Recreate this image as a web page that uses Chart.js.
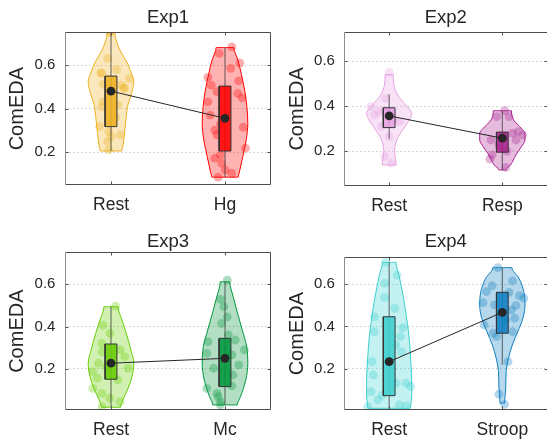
<!DOCTYPE html>
<html>
<head>
<meta charset="utf-8">
<script src="https://cdn.jsdelivr.net/npm/chart.js@4.4.0/dist/chart.umd.min.js"></script>
<style>
  html, body { margin: 0; padding: 0; background: #fff; }
  #wrap { position: relative; width: 547px; height: 441px; overflow: hidden; }
  canvas { position: absolute; }
</style>
</head>
<body>
<div id="wrap">
  <canvas id="exp1" width="275" height="220" style="left:0;top:0"></canvas>
  <canvas id="exp2" width="280" height="220" style="left:272px;top:0"></canvas>
  <canvas id="exp3" width="275" height="221" style="left:0;top:220px"></canvas>
  <canvas id="exp4" width="280" height="221" style="left:272px;top:220px"></canvas>
</div>
<script>
const titles = ["Exp1", "Exp2", "Exp3", "Exp4"];
const categories = [["Rest", "Hg"], ["Rest", "Resp"], ["Rest", "Mc"], ["Rest", "Stroop"]];
const yLabel = "ComEDA";
const yTicks = [0.2, 0.4, 0.6];
const yRanges = [[0.05, 0.751], [0.048, 0.728], [0.004, 0.752], [0.004, 0.728]];
const colors = [["#EDB120", "#FF0000"], ["#E6A0E1", "#A8228E"], ["#66CC00", "#00963C"], ["#3CCFCF", "#0E7EC0"]];

// box stats: [whisker low, q1, median, q3, whisker high]
// violin: levels + relative density (1 = widest), points: values + x jitter
const exp1RestBox = [0.206, 0.318, 0.481, 0.55, 0.745];
const exp1RestLevels = [0.206, 0.234, 0.295, 0.356, 0.417, 0.478, 0.524, 0.569, 0.615, 0.661, 0.707, 0.745];
const exp1RestDensity = [0.47, 0.53, 0.6, 0.66, 0.74, 0.92, 1.0, 0.87, 0.69, 0.43, 0.25, 0.18];
const exp1RestValues = [0.75, 0.631, 0.58, 0.562, 0.512, 0.508, 0.539, 0.496, 0.409, 0.417, 0.318, 0.28, 0.295, 0.249, 0.211, 0.565, 0.493, 0.432, 0.272, 0.36];
const exp1RestJitter = [-0.01, -0.03, 0.05, -0.08, -0.07, 0.09, 0.16, 0.12, -0.08, 0.06, -0.1, 0.08, -0.02, -0.03, -0.02, -0.09, 0.11, -0.07, 0.0, 0.04];

const exp1HgBox = [0.086, 0.206, 0.356, 0.504, 0.681];
const exp1HgLevels = [0.086, 0.104, 0.18, 0.257, 0.333, 0.409, 0.486, 0.562, 0.623, 0.681];
const exp1HgDensity = [0.58, 0.62, 0.78, 0.93, 1.0, 0.96, 0.86, 0.71, 0.57, 0.39];
const exp1HgValues = [0.654, 0.684, 0.585, 0.544, 0.508, 0.528, 0.47, 0.478, 0.432, 0.371, 0.302, 0.28, 0.315, 0.219, 0.173, 0.188, 0.15, 0.119, 0.104, 0.086, 0.33, 0.45, 0.61];
const exp1HgJitter = [-0.05, 0.06, 0.05, -0.15, -0.12, 0.12, 0.11, -0.07, -0.15, -0.13, -0.09, -0.07, 0.16, 0.18, -0.09, -0.04, -0.03, 0.0, 0.06, -0.06, -0.04, 0.15, 0.13];

const exp2RestBox = [0.255, 0.305, 0.357, 0.393, 0.453];
const exp2RestLevels = [0.139, 0.198, 0.243, 0.287, 0.331, 0.368, 0.405, 0.449, 0.494, 0.541];
const exp2RestDensity = [0.31, 0.24, 0.31, 0.54, 0.84, 1.0, 0.74, 0.38, 0.21, 0.18];
const exp2RestValues = [0.55, 0.435, 0.398, 0.361, 0.376, 0.331, 0.265, 0.177, 0.147, 0.38, 0.34, 0.31];
const exp2RestJitter = [0, -0.03, -0.16, -0.13, -0.09, 0.09, 0, -0.04, 0.02, -0.04, 0.04, -0.07];

const exp2RespBox = [0.117, 0.196, 0.258, 0.285, 0.38];
const exp2RespLevels = [0.117, 0.139, 0.184, 0.22, 0.25, 0.28, 0.302, 0.339, 0.38];
const exp2RespDensity = [0.16, 0.36, 0.6, 0.84, 1.0, 1.0, 0.84, 0.5, 0.4];
const exp2RespValues = [0.354, 0.354, 0.287, 0.28, 0.25, 0.272, 0.25, 0.184, 0.165, 0.128, 0.38, 0.23, 0.2];
const exp2RespJitter = [-0.05, 0.06, 0.14, 0.09, 0.12, 0.18, -0.1, -0.09, -0.11, 0.03, 0.02, -0.03, 0.04];

const exp3RestBox = [0.017, 0.15, 0.226, 0.317, 0.494];
const exp3RestLevels = [0.017, 0.052, 0.099, 0.162, 0.226, 0.289, 0.368, 0.431, 0.494];
const exp3RestDensity = [0.42, 0.52, 0.72, 0.92, 1.0, 0.87, 0.67, 0.48, 0.31];
const exp3RestValues = [0.497, 0.407, 0.368, 0.32, 0.28, 0.289, 0.257, 0.226, 0.21, 0.186, 0.155, 0.147, 0.107, 0.083, 0.06, 0.044, 0.02, 0.202];
const exp3RestJitter = [0.04, -0.07, -0.01, -0.08, -0.08, 0.08, 0.12, -0.11, -0.04, -0.16, -0.12, 0.06, -0.16, -0.08, -0.01, 0.08, -0.08, 0.15];

const exp3McBox = [0.028, 0.115, 0.249, 0.344, 0.612];
const exp3McLevels = [0.028, 0.067, 0.146, 0.226, 0.304, 0.383, 0.463, 0.541, 0.612];
const exp3McDensity = [0.54, 0.68, 0.91, 1.0, 0.95, 0.76, 0.55, 0.36, 0.21];
const exp3McValues = [0.62, 0.529, 0.494, 0.446, 0.415, 0.36, 0.336, 0.328, 0.289, 0.273, 0.265, 0.202, 0.218, 0.17, 0.118, 0.107, 0.083, 0.067, 0.044, 0.028];
const exp3McJitter = [0.02, -0.04, -0.01, 0.02, -0.03, 0.03, 0.09, -0.15, 0.17, -0.16, 0.06, -0.1, 0.12, 0.07, 0.06, -0.16, -0.07, -0.06, -0.04, -0.04];

const exp4RestBox = [0.012, 0.072, 0.233, 0.446, 0.704];
const exp4RestLevels = [0.012, 0.075, 0.17, 0.265, 0.36, 0.455, 0.549, 0.644, 0.704];
const exp4RestDensity = [0.94, 1.0, 0.99, 0.94, 0.87, 0.75, 0.61, 0.43, 0.3];
const exp4RestValues = [0.704, 0.644, 0.605, 0.537, 0.446, 0.486, 0.375, 0.394, 0.352, 0.312, 0.28, 0.233, 0.17, 0.131, 0.131, 0.115, 0.091, 0.052, 0.075, 0.02, 0.028, 0.025];
const exp4RestJitter = [-0.03, 0.07, -0.04, -0.04, -0.13, 0.05, -0.13, 0.12, 0.1, 0.06, 0.11, -0.15, -0.14, 0.06, 0.15, 0.19, -0.16, -0.1, -0.06, -0.19, 0.09, 0.15];

const exp4StroopBox = [0.218, 0.368, 0.467, 0.562, 0.679];
const exp4StroopLevels = [0.036, 0.107, 0.186, 0.249, 0.312, 0.375, 0.439, 0.502, 0.565, 0.628, 0.679];
const exp4StroopDensity = [0.1, 0.15, 0.17, 0.27, 0.44, 0.68, 0.91, 1.0, 0.95, 0.74, 0.42];
const exp4StroopValues = [0.679, 0.593, 0.565, 0.513, 0.616, 0.562, 0.546, 0.534, 0.499, 0.439, 0.375, 0.502, 0.368, 0.352, 0.407, 0.233, 0.079, 0.031, 0.431, 0.478];
const exp4StroopJitter = [-0.04, -0.09, -0.14, -0.17, 0.09, 0.06, 0.15, 0.19, 0.12, 0.11, 0.09, -0.07, -0.08, -0.05, -0.16, 0.05, -0.03, 0.02, 0.03, 0.08];

const groups = [
  [
    { box: exp1RestBox, levels: exp1RestLevels, density: exp1RestDensity, values: exp1RestValues, jitter: exp1RestJitter },
    { box: exp1HgBox, levels: exp1HgLevels, density: exp1HgDensity, values: exp1HgValues, jitter: exp1HgJitter },
  ],
  [
    { box: exp2RestBox, levels: exp2RestLevels, density: exp2RestDensity, values: exp2RestValues, jitter: exp2RestJitter },
    { box: exp2RespBox, levels: exp2RespLevels, density: exp2RespDensity, values: exp2RespValues, jitter: exp2RespJitter },
  ],
  [
    { box: exp3RestBox, levels: exp3RestLevels, density: exp3RestDensity, values: exp3RestValues, jitter: exp3RestJitter },
    { box: exp3McBox, levels: exp3McLevels, density: exp3McDensity, values: exp3McValues, jitter: exp3McJitter },
  ],
  [
    { box: exp4RestBox, levels: exp4RestLevels, density: exp4RestDensity, values: exp4RestValues, jitter: exp4RestJitter },
    { box: exp4StroopBox, levels: exp4StroopLevels, density: exp4StroopDensity, values: exp4StroopValues, jitter: exp4StroopJitter },
  ],
];

// layout of each subplot inside its canvas
const panels = [
  { id: "exp1", yWidth: 65.4, xHeight: 35, top: 32.3, padRight: 4.4, titleTop: 6.7, yTitlePad: 5.5, yTickPad: 10 },
  { id: "exp2", yWidth: 71.9, xHeight: 34.5, top: 32.3, padRight: 1.8, titleTop: 6.7, yTitlePad: 13, yTickPad: 9 },
  { id: "exp3", yWidth: 65.4, xHeight: 31, top: 32.3, padRight: 4.4, titleTop: 10.7, yTitlePad: 5, yTickPad: 10 },
  { id: "exp4", yWidth: 71.9, xHeight: 31, top: 37.3, padRight: 1.8, titleTop: 11.2, yTitlePad: 13, yTickPad: 9 },
];

const VIOLIN_HALF = 0.2;
const BOX_HALF = 0.052;
const INK = "#262626";

Chart.defaults.font.family = '"Liberation Sans", Arial, Helvetica, sans-serif';
Chart.defaults.color = INK;

function rgba(hex, a) {
  const n = parseInt(hex.slice(1), 16);
  return `rgba(${(n >> 16) & 255}, ${(n >> 8) & 255}, ${n & 255}, ${a})`;
}

function halfViolin(center, side, g) {
  const last = g.levels.length - 1;
  const edge = g.levels.map((v, i) => ({ x: center + side * g.density[i] * VIOLIN_HALF, y: v }));
  return [{ x: center, y: g.levels[0] }, ...edge, { x: center, y: g.levels[last] }];
}

function groupDatasets(g, center, color) {
  const sets = [];
  [1, -1].forEach((side) => {
    sets.push({
      type: "line",
      data: halfViolin(center, side, g),
      indexAxis: "y",
      cubicInterpolationMode: "monotone",
      fill: "shape",
      backgroundColor: rgba(color, 0.3),
      borderColor: color,
      borderWidth: 1,
      pointRadius: 0,
      order: 5,
    });
  });
  sets.push({
    type: "scatter",
    data: g.values.map((v, i) => ({ x: center + g.jitter[i], y: v })),
    pointRadius: 4.4,
    pointBackgroundColor: rgba(color, 0.32),
    pointBorderWidth: 0,
    order: 4,
  });
  sets.push({
    type: "line",
    data: [{ x: center, y: g.box[0] }, { x: center, y: g.box[4] }],
    borderColor: "rgba(40, 40, 40, 0.6)",
    borderWidth: 1.2,
    pointRadius: 0,
    order: 3,
  });
  const [, q1, , q3] = g.box;
  sets.push({
    type: "line",
    data: [
      { x: center - BOX_HALF, y: q1 },
      { x: center + BOX_HALF, y: q1 },
      { x: center + BOX_HALF, y: q3 },
      { x: center - BOX_HALF, y: q3 },
      { x: center - BOX_HALF, y: q1 },
    ],
    fill: "shape",
    backgroundColor: rgba(color, 0.88),
    borderColor: "#333333",
    borderWidth: 1,
    pointRadius: 0,
    order: 2,
  });
  return sets;
}

const framePlugin = {
  id: "frame",
  afterDatasetsDraw(chart) {
    const { ctx, chartArea: a, scales } = chart;
    const l = Math.round(a.left) + 0.5;
    const r = Math.round(a.right) - 0.5;
    const t = Math.round(a.top) + 0.5;
    const b = Math.round(a.bottom) - 0.5;
    ctx.save();
    ctx.lineWidth = 1;
    ctx.strokeStyle = "#4d4d4d";
    ctx.beginPath();
    ctx.moveTo(l, t); ctx.lineTo(r, t);
    ctx.moveTo(l, b); ctx.lineTo(r, b);
    ctx.moveTo(r, t); ctx.lineTo(r, b);
    scales.x.ticks.forEach((tk) => {
      const px = Math.round(scales.x.getPixelForValue(tk.value)) + 0.5;
      ctx.moveTo(px, b); ctx.lineTo(px, b - 3);
      ctx.moveTo(px, t); ctx.lineTo(px, t + 3);
    });
    scales.y.ticks.forEach((tk) => {
      const py = Math.round(scales.y.getPixelForValue(tk.value)) + 0.5;
      ctx.moveTo(l, py); ctx.lineTo(l + 3, py);
      ctx.moveTo(r, py); ctx.lineTo(r - 3, py);
    });
    ctx.stroke();
    ctx.strokeStyle = "#8c8c8c";
    ctx.beginPath();
    ctx.moveTo(l, t); ctx.lineTo(l, b);
    ctx.stroke();
    ctx.restore();
  },
};

panels.forEach((p, k) => {
  const cats = categories[k];
  const datasets = [];
  const medians = groups[k].map((g) => g.box[2]);
  datasets.push({
    type: "scatter",
    data: medians.map((m, i) => ({ x: i + 1, y: m })),
    pointRadius: 4.4,
    pointBackgroundColor: INK,
    pointBorderWidth: 0,
    order: 0,
  });
  datasets.push({
    type: "line",
    data: medians.map((m, i) => ({ x: i + 1, y: m })),
    borderColor: INK,
    borderWidth: 1,
    pointRadius: 0,
    order: 1,
  });
  groups[k].forEach((g, i) => {
    datasets.push(...groupDatasets(g, i + 1, colors[k][i]));
  });

  new Chart(document.getElementById(p.id), {
    type: "line",
    data: { datasets },
    options: {
      responsive: false,
      animation: false,
      layout: { padding: { left: 0, right: p.padRight, top: 0, bottom: 0 } },
      plugins: {
        legend: { display: false },
        tooltip: { enabled: false },
      },
      scales: {
        x: {
          type: "linear",
          min: 0.6,
          max: 2.4,
          afterBuildTicks: (s) => { s.ticks = cats.map((c, i) => ({ value: i + 1 })); },
          afterFit: (s) => { s.height = p.xHeight; },
          grid: { display: false, drawTicks: false },
          border: { display: false },
          ticks: {
            autoSkip: false,
            maxRotation: 0,
            padding: 10,
            color: INK,
            font: { size: 17.5 },
            callback: (v, i) => cats[i],
          },
        },
        y: {
          type: "linear",
          min: yRanges[k][0],
          max: yRanges[k][1],
          afterBuildTicks: (s) => { s.ticks = yTicks.map((v) => ({ value: v })); },
          afterFit: (s) => { s.width = p.yWidth; },
          grid: { color: "rgba(0, 0, 0, 0.2)", lineWidth: 1, drawTicks: false },
          border: { display: false, dash: [1.5, 2.5] },
          ticks: {
            padding: p.yTickPad,
            color: INK,
            font: { size: 15 },
            callback: (v) => v.toFixed(1),
          },
          title: {
            display: true,
            text: yLabel,
            color: INK,
            font: { size: 20 },
            padding: { top: p.yTitlePad, bottom: 0 },
          },
        },
        titleAxis: {
          type: "linear",
          axis: "x",
          position: "top",
          min: 0.6,
          max: 2.4,
          afterFit: (s) => { s.height = p.top; },
          grid: { display: false, drawTicks: false },
          border: { display: false },
          ticks: { display: false },
          title: {
            display: true,
            text: titles[k],
            color: INK,
            font: { size: 18.5 },
            padding: { top: p.titleTop, bottom: 0 },
          },
        },
      },
    },
    plugins: [framePlugin],
  });
});
</script>
</body>
</html>
